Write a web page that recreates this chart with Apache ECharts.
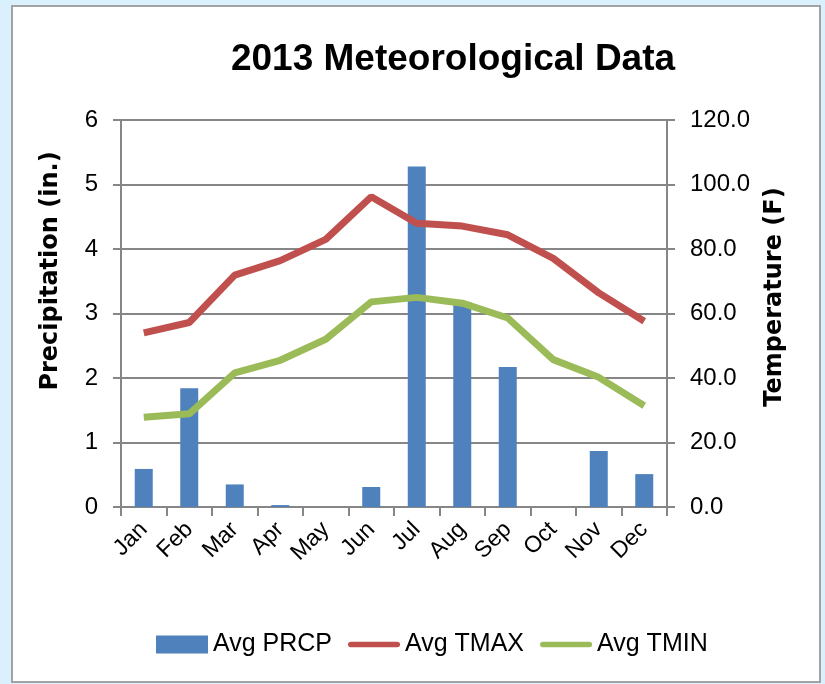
<!DOCTYPE html>
<html>
<head>
<meta charset="utf-8">
<script src="https://cdn.jsdelivr.net/npm/echarts@6/dist/echarts.min.js"></script>
<style>
html,body{margin:0;padding:0;background:#DAF0FC;}
#c{width:825px;height:684px;}
</style>
</head>
<body>
<div id="c"></div>
<script>
const months = ['Jan','Feb','Mar','Apr','May','Jun','Jul','Aug','Sep','Oct','Nov','Dec'];
const avgPrcp = [0.59, 1.84, 0.35, 0.03, 0, 0.31, 5.28, 3.18, 2.17, 0, 0.87, 0.51];
const avgTmax = [54.0, 57.2, 71.9, 76.4, 83.0, 96.2, 88.0, 87.1, 84.4, 77.1, 66.4, 57.6];
const avgTmin = [27.8, 28.9, 41.6, 45.5, 52.0, 63.6, 65.0, 63.2, 58.6, 45.7, 40.2, 31.4];
const titleText = '2013 Meteorological Data';
const leftAxisName = 'Precipitation (in.)';
const rightAxisName = 'Temperature (F)';

const gray = '#868686';
const lineIcon = 'path://M3,0H53A3,3,0,0,1,53,6H3A3,3,0,0,1,3,0Z';
const chart = echarts.init(document.getElementById('c'), null, {renderer:'canvas'});
chart.setOption({
  backgroundColor: '#DAF0FC',
  animation: false,
  title: {
    text: titleText,
    left: 448, top: 36, textAlign: 'center',
    textStyle: {fontFamily: 'Liberation Sans', fontWeight: 'bold', fontSize: 37, color: '#000'}
  },
  graphic: [
    {type:'rect', z:-10, shape:{x:12,y:6,width:808,height:676}, style:{fill:'#fff', stroke:'#A3A3A3', lineWidth:2}},
    {type:'text', x:51, y:271, rotation:Math.PI/2, z:10,
      style:{text:leftAxisName, fontFamily:'DejaVu Sans', fontWeight:'bold', fontSize:24, fill:'#000', align:'center', verticalAlign:'middle'}},
    {type:'text', x:775, y:297, rotation:Math.PI/2, z:10,
      style:{text:rightAxisName, fontFamily:'DejaVu Sans', fontWeight:'bold', fontSize:24, fill:'#000', align:'center', verticalAlign:'middle'}}
  ],
  legend: {
    left: 151, top: 627,
    itemWidth: 52, itemHeight: 18, itemGap: 16,
    textStyle: {fontFamily:'Liberation Sans', fontSize:25, color:'#000'},
    data: [
      {name:'Avg PRCP', icon:'rect'},
      {name:'Avg TMAX', icon: lineIcon},
      {name:'Avg TMIN', icon: lineIcon}
    ]
  },
  grid: {left:121, right:158, top:120, bottom:177, containLabel:false},
  xAxis: {
    type:'category', data: months,
    axisLine:{show:true, lineStyle:{color:gray, width:2}},
    axisTick:{show:true, length:9, alignWithLabel:false, lineStyle:{color:gray, width:2}},
    axisLabel:{rotate:45, margin:19, fontFamily:'Liberation Sans', fontSize:23, color:'#000', interval:0}
  },
  yAxis: [
    {type:'value', min:0, max:6, interval:1, position:'left',
      axisLine:{show:true, lineStyle:{color:gray, width:2}},
      axisTick:{show:true, length:8, lineStyle:{color:gray, width:2}},
      splitLine:{show:true, lineStyle:{color:gray, width:2}},
      axisLabel:{margin:23, fontFamily:'Liberation Sans', fontSize:24, color:'#000'}},
    {type:'value', min:0, max:120, interval:20, position:'right',
      axisLine:{show:true, lineStyle:{color:gray, width:2}},
      axisTick:{show:true, length:8, lineStyle:{color:gray, width:2}},
      splitLine:{show:false},
      axisLabel:{margin:23, fontFamily:'Liberation Sans', fontSize:24, color:'#000', formatter:v=>v.toFixed(1)}}
  ],
  series: [
    {name:'Avg PRCP', type:'bar', yAxisIndex:0, data:avgPrcp, barWidth:18,
      itemStyle:{color:'#4F81BD'}},
    {name:'Avg TMAX', type:'line', yAxisIndex:1, data:avgTmax, symbol:'none',
      lineStyle:{color:'#C0504D', width:7}, itemStyle:{color:'#C0504D'}},
    {name:'Avg TMIN', type:'line', yAxisIndex:1, data:avgTmin, symbol:'none',
      lineStyle:{color:'#9BBB59', width:7}, itemStyle:{color:'#9BBB59'}}
  ]
});
</script>
</body>
</html>
